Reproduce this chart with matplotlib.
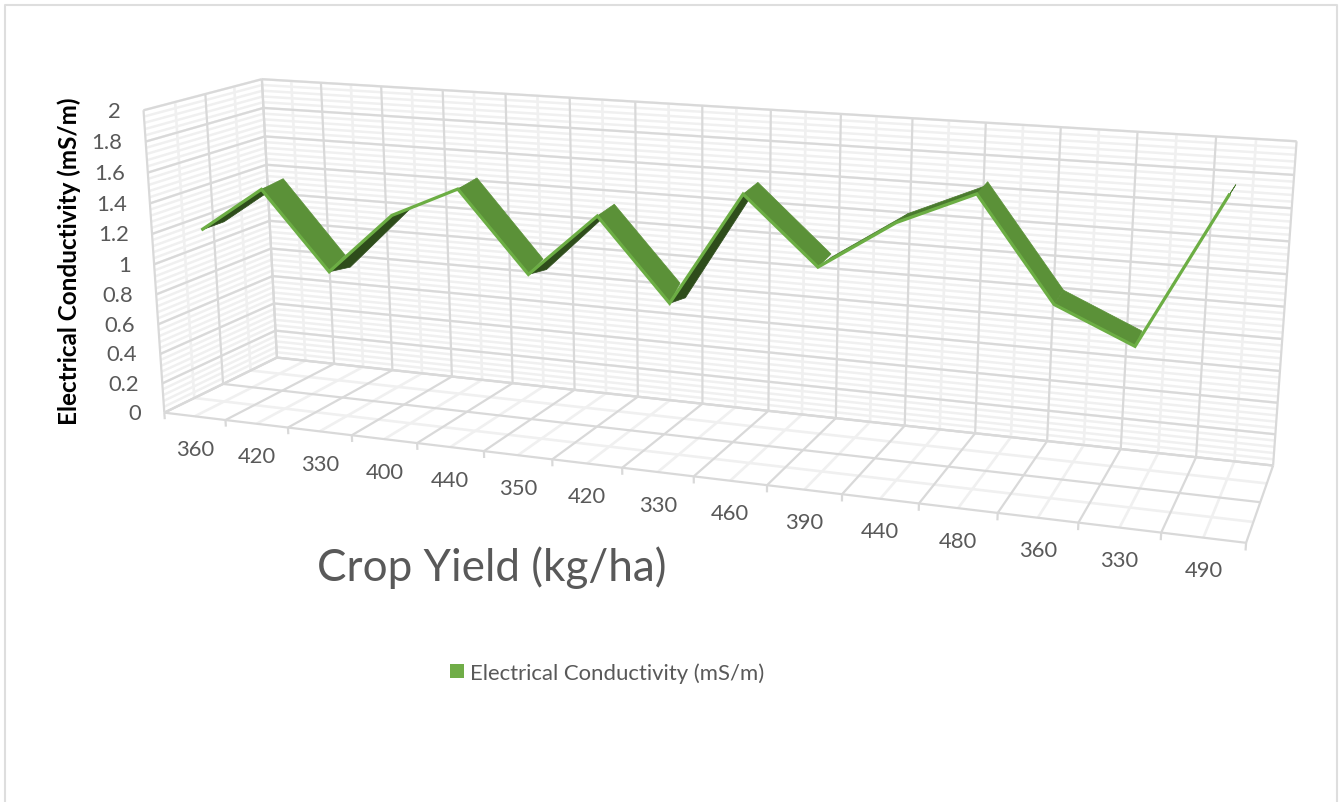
import numpy as np
import matplotlib
matplotlib.use('Agg')
import matplotlib.pyplot as plt
from matplotlib.patches import Polygon, Rectangle

crop_yield = ["360", "420", "330", "400", "440", "350", "420", "330", "460", "390", "440", "480", "360", "330", "490"]
conductivity = [1.2, 1.5, 1.0, 1.4, 1.6, 1.1, 1.5, 1.0, 1.7, 1.3, 1.6, 1.8, 1.2, 1.0, 1.9]
y_ticks = [0, 0.2, 0.4, 0.6, 0.8, 1, 1.2, 1.4, 1.6, 1.8, 2]
y_max = 2
y_minor_step = 0.04

plt.rcParams['font.family'] = ['Lato', 'DejaVu Sans']
TEXT = '#595959'
MAJOR = '#D9D9D9'
MINOR = '#F0F0F0'
TOP = '#5B9138'
UNDER = '#2E4D1B'
UNDER_THIN = '#4A7A2E'
EDGE = '#6CAE44'

fig = plt.figure(figsize=(13.44, 8.02), dpi=100)
ax = fig.add_axes([0, 0, 1, 1])
ax.set_xlim(0, 1344)
ax.set_ylim(802, 0)
ax.axis('off')

# camera of the 3D box: fitted from where its corners land on the canvas
n = len(crop_yield)
box = [(0, 0, 0, 165, 413), (n, 0, 0, 1246, 543), (n, 0, 1, 1273, 465), (0, 0, 1, 277, 357),
       (0, 2, 0, 143, 109), (0, 2, 1, 262, 78), (n, 2, 1, 1297, 140),
       (1, 0, 0, 226, 420), (2, 0, 0, 288, 428), (3, 0, 0, 352, 436), (13, 0, 0, 1078, 523),
       (14, 0, 0, 1161, 533), (1, 0, 1, 333, 364), (2, 0, 1, 392, 370), (13, 0, 1, 1122, 449),
       (14, 0, 1, 1196, 457), (1, 2, 1, 321, 84), (2, 2, 1, 382, 89), (13, 2, 1, 1137, 133),
       (14, 2, 1, 1216, 136), (0, 2, .5, 205, 93), (0, 0, .5, 223, 383), (n, 0, .5, 1260, 502)]
A = []
b = []
for X, Y, Z, u, v in box:
    A.append([X, Y, Z, 1, 0, 0, 0, 0, -u * X, -u * Y, -u * Z])
    b.append(u)
    A.append([0, 0, 0, 0, X, Y, Z, 1, -v * X, -v * Y, -v * Z])
    b.append(v)
sol = np.linalg.lstsq(np.array(A, float), np.array(b, float), rcond=None)[0]
P = np.append(sol, 1).reshape(3, 4)


def proj(x, y, z):
    h = P @ np.array([x, y, z, 1.0])
    return h[0] / h[2], h[1] / h[2]


def line3d(p0, p1, color, lw, zorder):
    a = proj(*p0)
    c = proj(*p1)
    ax.plot([a[0], c[0]], [a[1], c[1]], color=color, lw=lw, zorder=zorder, solid_capstyle='butt')


# minor gridlines first, major ones over them
minor_y = np.arange(0, y_max + 0.001, y_minor_step)
for y in minor_y:
    line3d((0, y, 0), (0, y, 1), MINOR, 1.8, 1)
    line3d((0, y, 1), (n, y, 1), MINOR, 1.8, 1)
for i in range(n):
    line3d((i + .5, 0, 1), (i + .5, y_max, 1), MINOR, 1.9, 1)
    line3d((i + .5, 0, 0), (i + .5, 0, 1), MINOR, 1.9, 1)
for z in [.25, .75]:
    line3d((0, 0, z), (0, y_max, z), MINOR, 1.9, 1)
    line3d((0, 0, z), (n, 0, z), MINOR, 1.9, 1)

for y in y_ticks:
    line3d((0, y, 0), (0, y, 1), MAJOR, 1.6, 2)
    line3d((0, y, 1), (n, y, 1), MAJOR, 1.6, 2)
for i in range(n + 1):
    line3d((i, 0, 1), (i, y_max, 1), MAJOR, 1.6, 2)
    line3d((i, 0, 0), (i, 0, 1), MAJOR, 1.6, 2)
    line3d((i, 0, 0), (i, -0.045, 0), MAJOR, 1.6, 2)
for z in [0, .5, 1]:
    line3d((0, 0, z), (0, y_max, z), MAJOR, 1.6, 2)
    line3d((0, 0, z), (n, 0, z), MAJOR, 1.6, 2)

# ribbon: front edge sits at z_front, back edge at z_back
z_front = 0.15
z_back = 0.34
xs = np.arange(n) + 0.5
# at the valleys the next rising stretch cuts into the upper face: (lift, depth) per point
valley_top = {2: (.064, .298), 5: (.049, .305), 7: (.084, .275), 9: (.022, .334), 13: (.029, .316)}
valley_under = {2: -.03, 5: -.03, 7: -.03}


def back_top(i):
    lift, z = valley_top.get(i, (0.02, z_back))
    return proj(xs[i], conductivity[i] + lift, z)


def back_under(i):
    return proj(xs[i], conductivity[i] + valley_under.get(i, 0), z_back)


front = [proj(xs[i], conductivity[i], z_front) for i in range(n)]
for i in range(n - 1):
    f0, f1 = front[i], front[i + 1]
    if conductivity[i + 1] > conductivity[i]:
        b0, b1 = back_under(i), back_under(i + 1)
        cross = (f1[0] - f0[0]) * (b0[1] - f0[1]) - (f1[1] - f0[1]) * (b0[0] - f0[0])
        width = abs(cross) / np.hypot(f1[0] - f0[0], f1[1] - f0[1])
        col = UNDER if width > 5.5 else UNDER_THIN
        ax.add_patch(Polygon([f0, f1, b1, b0], closed=True, fc=col, ec=col, lw=0.5, zorder=3))
for i in range(n - 1):
    f0, f1 = front[i], front[i + 1]
    if conductivity[i + 1] < conductivity[i]:
        b0, b1 = back_top(i), back_top(i + 1)
        ax.add_patch(Polygon([f0, f1, b1, b0], closed=True, fc=TOP, ec=TOP, lw=0.5, zorder=4))
ax.plot([p[0] for p in front], [p[1] for p in front], color=EDGE, lw=2.3, zorder=5,
        solid_joinstyle='miter', solid_capstyle='butt')

# tick labels
for y in y_ticks:
    px, py = proj(0, y, 0)
    ax.text(px - 23, py + 1.5, f"{y:g}", ha='right', va='center', fontsize=15.8, color=TEXT)
for i, lab in enumerate(crop_yield):
    px, py = proj(xs[i], 0, 0)
    ax.text(px, py + 33.5, lab, ha='center', va='center', fontsize=15.8, color=TEXT)

ax.text(69, 261, "Electrical Conductivity (mS/m)", rotation=90, ha='center', va='center',
        fontsize=17.5, fontweight='bold', color='black')
ax.text(492, 567.5, "Crop Yield (kg/ha)", ha='center', va='center', fontsize=31.7, color=TEXT)

# legend
ax.add_patch(Rectangle((450, 664), 14, 14, fc='#70AD47', ec='none'))
ax.text(470, 673.5, "Electrical Conductivity (mS/m)", ha='left', va='center', fontsize=15.9, color=TEXT)

# chart area border
ax.plot([5, 5, 1337, 1337], [802, 5, 5, 802], color='#DEDEDE', lw=1.5, zorder=1)

fig.savefig('out.png', dpi=100)
